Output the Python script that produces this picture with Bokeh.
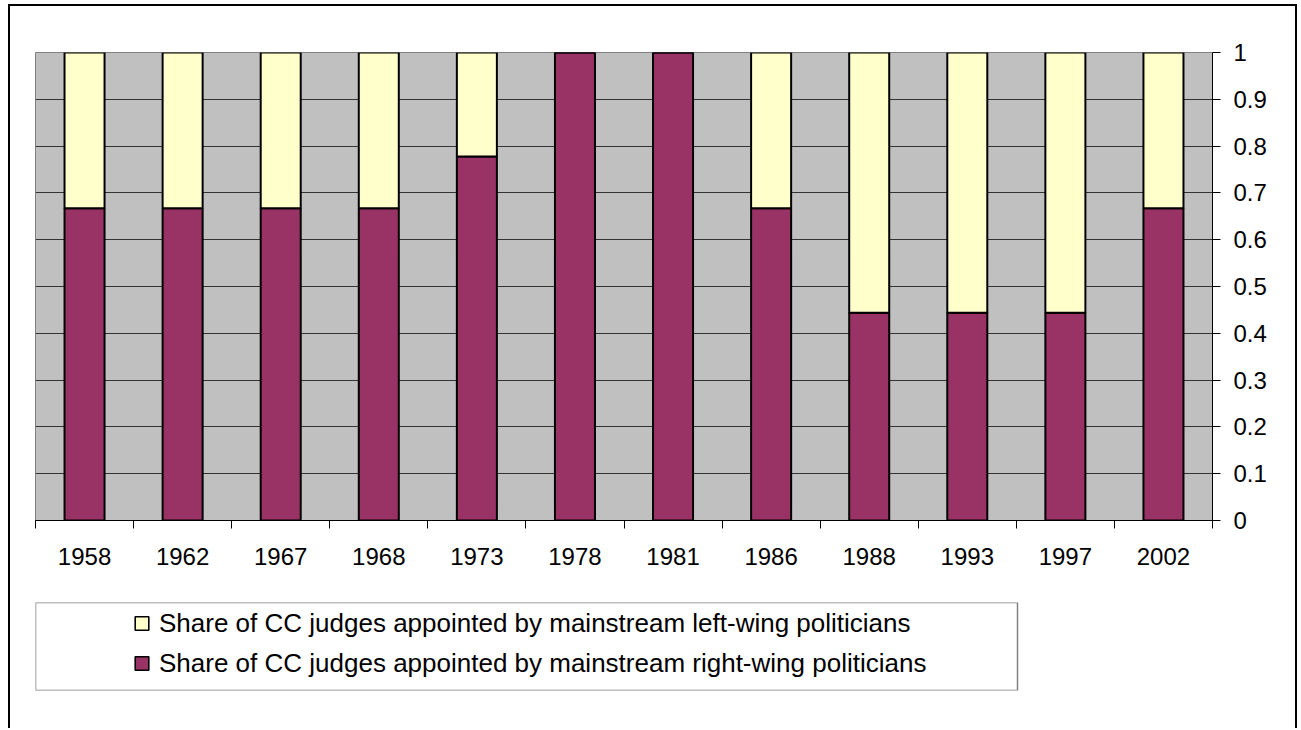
from bokeh.plotting import figure
from bokeh.models import ColumnDataSource, Range1d, FixedTicker, Legend, LegendItem, BoxAnnotation
from bokeh.layouts import column
from bokeh.embed import file_html
from bokeh.resources import INLINE

years = ["1958", "1962", "1967", "1968", "1973", "1978", "1981", "1986", "1988", "1993", "1997", "2002"]
right_wing = [0.667, 0.667, 0.667, 0.667, 0.778, 1.0, 1.0, 0.667, 0.444, 0.444, 0.444, 0.667]
left_wing = [0.333, 0.333, 0.333, 0.333, 0.222, 0.0, 0.0, 0.333, 0.556, 0.556, 0.556, 0.333]
y_ticks = [0, 0.1, 0.2, 0.3, 0.4, 0.5, 0.6, 0.7, 0.8, 0.9, 1]
y_tick_labels = ["0", "0.1", "0.2", "0.3", "0.4", "0.5", "0.6", "0.7", "0.8", "0.9", "1"]
series_names = [
    "Share of CC judges appointed by mainstream left-wing politicians",
    "Share of CC judges appointed by mainstream right-wing politicians",
]
colors = ["#FFFFCC", "#993366"]

FONT = "Liberation Sans"
INNER_W = 1285
LEFT = 25
RIGHT = 83
FRAME_W = INNER_W - LEFT - RIGHT
LEGEND_BOX_W = 982

x_centers = [i + 0.5 for i in range(len(years))]
x_bounds = list(range(len(years) + 1))

src = ColumnDataSource(dict(x=x_centers, right=right_wing, left=left_wing))

p1 = figure(width=INNER_W, height=574, x_range=Range1d(0, len(years)), y_range=Range1d(0, 1),
            y_axis_location="right", output_backend="svg", toolbar_location=None,
            min_border_left=LEFT, min_border_right=RIGHT, min_border_top=46, min_border_bottom=60)
p1.background_fill_color = "#C0C0C0"
p1.border_fill_color = "white"
p1.outline_line_color = "#808080"
p1.outline_line_width = 1

p1.vbar_stack(["right", "left"], x="x", width=0.408, source=src,
              fill_color=[colors[1], colors[0]], line_color="black", line_width=2)

p1.xgrid.visible = False
p1.ygrid.ticker = FixedTicker(ticks=y_ticks)
p1.ygrid.grid_line_color = "#333333"
p1.ygrid.grid_line_width = 1

xa = p1.xaxis[0]
xa.ticker = FixedTicker(ticks=x_centers, minor_ticks=x_bounds)
xa.major_label_overrides = {c: y for c, y in zip(x_centers, years)}
xa.major_tick_out = 0
xa.major_tick_in = 0
xa.minor_tick_out = 8
xa.minor_tick_in = 0
xa.minor_tick_line_color = "black"
xa.axis_line_color = "black"
xa.major_label_standoff = 19
xa.major_label_text_font = FONT
xa.major_label_text_font_size = "24px"
xa.major_label_text_color = "black"

ya = p1.yaxis[0]
ya.ticker = FixedTicker(ticks=y_ticks)
ya.major_label_overrides = {t: l for t, l in zip(y_ticks, y_tick_labels)}
ya.major_tick_out = 8
ya.major_tick_in = 0
ya.minor_tick_out = 0
ya.minor_tick_in = 0
ya.major_tick_line_color = "black"
ya.axis_line_color = "black"
ya.major_label_standoff = 13
ya.major_label_text_font = FONT
ya.major_label_text_font_size = "24px"
ya.major_label_text_color = "black"

# legend panel
p2 = figure(width=INNER_W, height=148, x_range=Range1d(0, 1), y_range=Range1d(0, 1),
            x_axis_location=None, y_axis_location=None,
            output_backend="svg", toolbar_location=None,
            min_border_left=LEFT, min_border_right=RIGHT, min_border_top=22, min_border_bottom=38)
p2.grid.visible = False
p2.background_fill_color = "white"
p2.border_fill_color = "white"
p2.outline_line_alpha = 0

p2.add_layout(BoxAnnotation(left=0, right=LEGEND_BOX_W / FRAME_W, bottom=0, top=1,
                            fill_alpha=0, line_color="#808080", line_alpha=1, line_width=1.5))

r_left = p2.scatter(x=[-5], y=[-5], marker="square", fill_color=colors[0], line_color="black", line_width=1.6)
r_right = p2.scatter(x=[-5], y=[-5], marker="square", fill_color=colors[1], line_color="black", line_width=1.6)

legend = Legend(items=[LegendItem(label=series_names[0], renderers=[r_left]),
                       LegendItem(label=series_names[1], renderers=[r_right])],
                location=(89, 10), padding=0, margin=0, spacing=6,
                glyph_width=35, glyph_height=34, label_standoff=0,
                label_text_font=FONT, label_text_font_size="26px", label_text_color="black",
                border_line_alpha=0, background_fill_alpha=0)
p2.add_layout(legend)

layout = column(p1, p2)
layout.styles = {"border-left": "2px solid black", "border-right": "2px solid black",
                 "border-top": "2px solid black", "margin-left": "8px", "margin-top": "4px"}

open("out.html", "w").write(file_html(layout, INLINE))
